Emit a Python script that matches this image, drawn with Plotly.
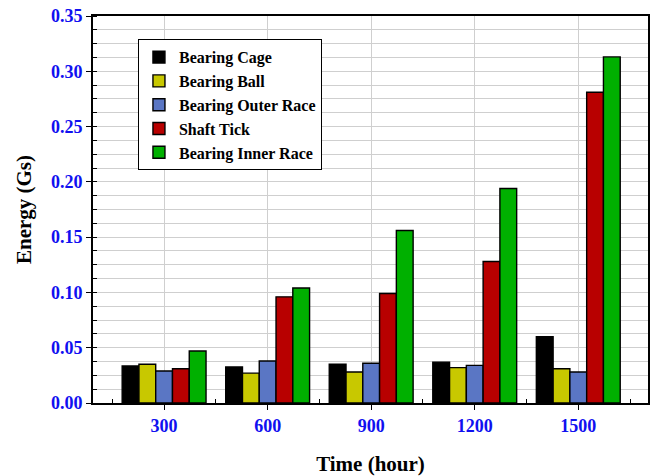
import plotly.graph_objects as go

times = [300, 600, 900, 1200, 1500]
tick_labels = ["300", "600", "900", "1200", "1500"]
series_names = ["Bearing Cage", "Bearing Ball", "Bearing Outer Race", "Shaft Tick", "Bearing Inner Race"]
bearing_cage = [0.0335, 0.0326, 0.035, 0.037, 0.060]
bearing_ball = [0.035, 0.027, 0.028, 0.032, 0.031]
bearing_outer = [0.029, 0.038, 0.036, 0.034, 0.028]
shaft_tick = [0.031, 0.096, 0.099, 0.128, 0.281]
bearing_inner = [0.047, 0.104, 0.156, 0.194, 0.313]
colors = ["#000000", "#c8c800", "#5a76c4", "#b80000", "#00b000"]

values = [bearing_cage, bearing_ball, bearing_outer, shaft_tick, bearing_inner]

font_family = "Liberation Serif"
fig = go.Figure()
for name, vals, col in zip(series_names, values, colors):
    fig.add_trace(go.Bar(
        x=times, y=vals, name=name,
        marker=dict(color=col, line=dict(color="black", width=1.4)),
    ))

fig.update_layout(
    width=652, height=476,
    margin=dict(l=93, r=2, t=16, b=73),
    paper_bgcolor="white", plot_bgcolor="white",
    barmode="group", bargap=0.19, bargroupgap=0.0,
    font=dict(family=font_family, color="black"),
    legend=dict(
        x=0.081, y=0.94, xanchor="left", yanchor="top",
        bgcolor="white", bordercolor="black", borderwidth=1,
        font=dict(family=font_family, size=16, color="black", weight="bold"),
        tracegroupgap=0,
    ),
    showlegend=True,
)

fig.update_xaxes(
    range=[94, 1702],
    tickmode="array", tickvals=times, ticktext=tick_labels,
    tickfont=dict(family=font_family, size=18, color="#1010f0", weight="bold"),
    ticks="outside", ticklen=5, tickcolor="black",
    showgrid=True, gridcolor="#cfcfcf", gridwidth=1,
    minor=dict(tickmode="array", tickvals=[150, 450, 750, 1050, 1350, 1650], ticks="inside", ticklen=4, tickcolor="black", showgrid=False),
    showline=True, linecolor="black", linewidth=2, mirror=True,
    title=dict(text="Time (hour)", font=dict(family=font_family, size=21, color="black", weight="bold"), standoff=22),
    zeroline=False,
)

fig.update_yaxes(
    range=[0, 0.35],
    tickmode="linear", tick0=0, dtick=0.05, tickformat=".2f",
    tickfont=dict(family=font_family, size=18, color="#1010f0", weight="bold"),
    ticks="outside", ticklen=5, tickcolor="black",
    showgrid=False,
    minor=dict(tick0=0, dtick=0.0125, ticks="inside", ticklen=4, tickcolor="black", showgrid=True, gridcolor="#cfcfcf", gridwidth=1),
    showline=True, linecolor="black", linewidth=2, mirror=True,
    title=dict(text="Energy (Gs)", font=dict(family=font_family, size=21, color="black", weight="bold"), standoff=14),
    zeroline=False,
)

fig.write_html("out.html")
